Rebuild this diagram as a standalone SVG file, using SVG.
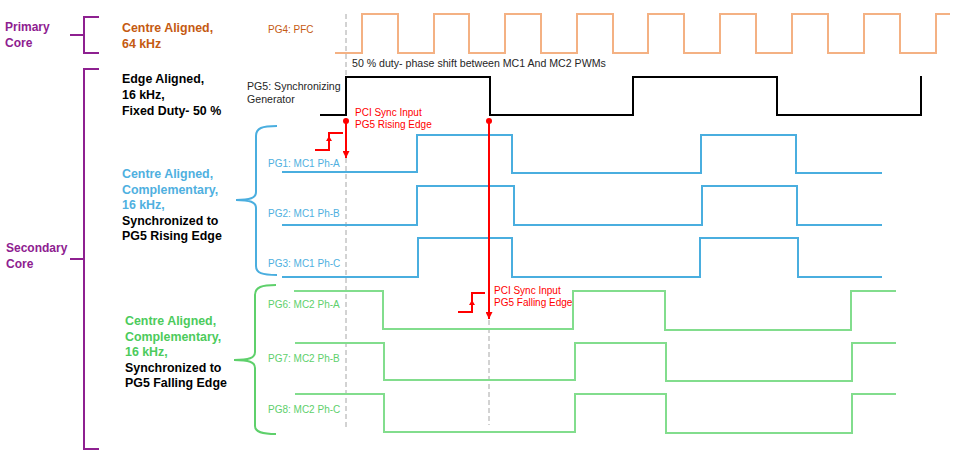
<svg xmlns="http://www.w3.org/2000/svg" width="964" height="471" viewBox="0 0 964 471">
<defs>
<marker id="arr" viewBox="0 0 10 10" refX="10" refY="5" markerWidth="7" markerHeight="7" markerUnits="userSpaceOnUse" orient="auto"><path d="M0,0 L10,5 L0,10 z" fill="#FF0000"/></marker>
</defs>
<style>
text{font-family:"Liberation Sans",Arial,sans-serif}
.core{font-size:12px;font-weight:bold;fill:#8E2090}
.hd{font-size:12.4px;font-weight:bold}
.sm{font-size:10px}
.sm2{font-size:10.6px}
.br{fill:none;stroke:#8E2090;stroke-width:2}
.wave{fill:none;stroke-width:2}
.orange{stroke:#F4B183}
.black{stroke:#000000}
.blue{stroke:#4AAEDF}
.green{stroke:#82DD8D}
.dash{fill:none;stroke:#A6A6A6;stroke-width:1;stroke-dasharray:5 3}
.red{fill:none;stroke:#FF0000;stroke-width:2}
.redt{fill:#FF0000}
</style>
<rect width="964" height="471" fill="#FFFFFF"/>

<g id="core-labels">
<text class="core" x="5" y="31">Primary</text>
<text class="core" x="5" y="47">Core</text>
<text class="core" x="6" y="252">Secondary</text>
<text class="core" x="6" y="268">Core</text>
</g>

<g id="brackets">
<path class="br" d="M99,17 H84 V53 H99 M70,35 H84"/>
<path class="br" d="M99,69 H84 V449 H99 M70,259 H84"/>
<path fill="none" stroke="#4AAEDF" stroke-width="2" d="M277,126 C262,126 256,128 256,136 V192 C256,198 250,200 236,200 C250,200 256,202 256,208 V266 C256,273 262,275 277,275"/>
<path fill="none" stroke="#5ED06B" stroke-width="2" d="M276,285 C262,285 255,287 255,295 V352 C255,358 249,360 234,360 C249,360 255,362 255,368 V426 C255,432 262,434 276,434"/>
</g>

<g id="desc-pfc">
<text class="hd" x="122" y="32" fill="#C55A11">Centre Aligned,</text>
<text class="hd" x="122" y="48" fill="#C55A11">64 kHz</text>
</g>
<g id="desc-sync">
<text class="hd" x="122" y="83" fill="#000">Edge Aligned,</text>
<text class="hd" x="122" y="99" fill="#000">16 kHz,</text>
<text class="hd" x="122" y="115" fill="#000">Fixed Duty- 50 %</text>
</g>
<g id="desc-mc1">
<text class="hd" x="122" y="178" fill="#4FB0E0">Centre Aligned,</text>
<text class="hd" x="122" y="194" fill="#4FB0E0">Complementary,</text>
<text class="hd" x="122" y="209" fill="#4FB0E0">16 kHz,</text>
<text class="hd" x="122" y="225" fill="#000">Synchronized to</text>
<text class="hd" x="122" y="240" fill="#000">PG5 Rising Edge</text>
</g>
<g id="desc-mc2">
<text class="hd" x="125" y="325" fill="#4CCB5C">Centre Aligned,</text>
<text class="hd" x="125" y="341" fill="#4CCB5C">Complementary,</text>
<text class="hd" x="125" y="356" fill="#4CCB5C">16 kHz,</text>
<text class="hd" x="125" y="372" fill="#000">Synchronized to</text>
<text class="hd" x="125" y="387" fill="#000">PG5 Falling Edge</text>
</g>

<g id="guides">
<line class="dash" x1="346" y1="14" x2="346" y2="427"/>
<line class="dash" x1="489" y1="320" x2="489" y2="425"/>
</g>

<g id="pg4">
<text class="sm" x="268" y="33" fill="#C55A11">PG4: PFC</text>
<path class="wave orange" d="M335,53 H362 V14 H398 V53 H434 V14 H469 V53 H505 V14 H541 V53 H577 V14 H613 V53 H648 V14 H684 V53 H720 V14 H756 V53 H792 V14 H828 V53 H864 V14 H900 V53 H936 V14 H950"/>
</g>

<g id="phase-note">
<text class="sm2" x="352" y="67" fill="#262626">50 % duty- phase shift between MC1 And MC2 PWMs</text>
</g>

<g id="pg5">
<text class="sm2" x="247" y="90" fill="#262626">PG5: Synchronizing</text>
<text class="sm2" x="247" y="103" fill="#262626">Generator</text>
<path class="wave black" d="M320,115 H346 V77 H490 V115 H633 V77 H777 V115 H921 V76"/>
</g>

<g id="pg1">
<text class="sm" x="268" y="167" fill="#4FB0E0">PG1: MC1 Ph-A</text>
<path class="wave blue" d="M282,172 H417 V135 H512 V173 H701 V135 H796 V173 H882"/>
</g>
<g id="pg2">
<text class="sm" x="268" y="217" fill="#4FB0E0">PG2: MC1 Ph-B</text>
<path class="wave blue" d="M282,225 H417 V186 H514 V225 H702 V186 H797 V225 H882"/>
</g>
<g id="pg3">
<text class="sm" x="268" y="267" fill="#4FB0E0">PG3: MC1 Ph-C</text>
<path class="wave blue" d="M282,277 H418 V238 H512 V277 H700 V238 H798 V277 H882"/>
</g>
<g id="pg6">
<text class="sm" x="268" y="308" fill="#5ED06B">PG6: MC2 Ph-A</text>
<path class="wave green" d="M294,291 H383 V329 H573 V291 H665 V330 H851 V291 H896"/>
</g>
<g id="pg7">
<text class="sm" x="268" y="362" fill="#5ED06B">PG7: MC2 Ph-B</text>
<path class="wave green" d="M295,343 H384 V380 H575 V343 H666 V381 H852 V343 H896"/>
</g>
<g id="pg8">
<text class="sm" x="268" y="413" fill="#5ED06B">PG8: MC2 Ph-C</text>
<path class="wave green" d="M295,394 H384 V432 H575 V394 H666 V433 H852 V394 H896"/>
</g>

<g id="connectors">
<circle cx="346" cy="121" r="3" fill="#FF0000"/>
<line class="red" x1="346" y1="121" x2="346" y2="158" marker-end="url(#arr)"/>
<path class="red" d="M315,150 H329 V133 H343"/>
<polygon points="326,141 332,141 329,136" fill="#FF0000"/>
<text class="sm redt" x="355" y="116">PCI Sync Input</text>
<text class="sm redt" x="355" y="128">PG5 Rising Edge</text>

<circle cx="489" cy="121" r="3" fill="#FF0000"/>
<line class="red" x1="489" y1="121" x2="489" y2="319" marker-end="url(#arr)"/>
<path class="red" d="M458,312 H472 V293 H485"/>
<polygon points="469,305 475,305 472,300" fill="#FF0000"/>
<text class="sm redt" x="494" y="294">PCI Sync Input</text>
<text class="sm redt" x="494" y="306">PG5 Falling Edge</text>
</g>
</svg>
